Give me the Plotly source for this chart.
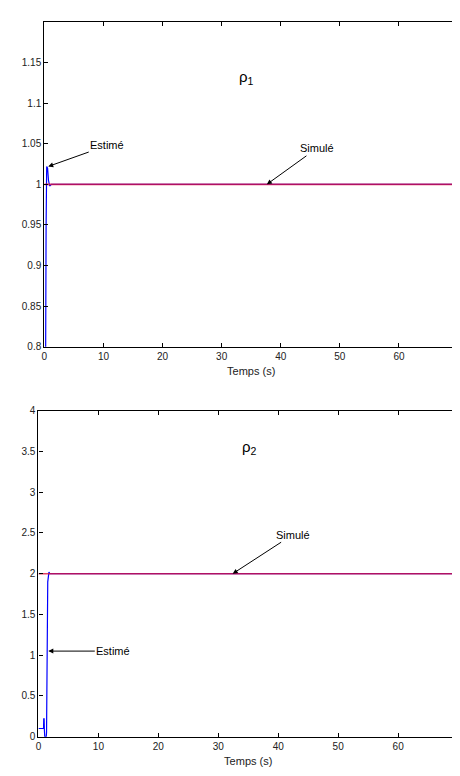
import plotly.graph_objects as go

# ---- data ----
t_sim = [0, 70]
rho1_sim = [1.0, 1.0]
rho2_sim = [2.0, 2.0]

t_est1 = [0, 0.1, 0.2, 0.3, 0.4, 0.55, 0.7, 0.9, 1.2, 70]
rho1_est = [0.5, 0.6, 0.75, 0.95, 1.022, 1.02, 1.005, 0.998, 1.0, 1.0]

t_est2 = [0, 0.85, 0.88, 0.95, 0.98, 1.05, 1.3, 1.35, 1.55, 1.65, 1.75, 1.9, 70]
rho2_est = [0.1, 0.1, 0.22, 0.22, 0.1, 0.0, 0.0, 0.05, 1.9, 1.95, 2.02, 2.0, 2.0]

x_ticks = [0, 10, 20, 30, 40, 50, 60, 70]
y1_ticks = [0.8, 0.85, 0.9, 0.95, 1.0, 1.05, 1.1, 1.15]
y1_labels = ["0.8", "0.85", "0.9", "0.95", "1", "1.05", "1.1", "1.15"]
y2_ticks = [0, 0.5, 1, 1.5, 2, 2.5, 3, 3.5, 4]
y2_labels = ["0", "0.5", "1", "1.5", "2", "2.5", "3", "3.5", "4"]

FONT = "Liberation Sans, Arial, sans-serif"
W, H = 460, 776

fig = go.Figure()

fig.add_trace(go.Scatter(x=t_est1, y=rho1_est, mode="lines",
                         line=dict(color="#0000ff", width=1.2), xaxis="x", yaxis="y", showlegend=False))
fig.add_trace(go.Scatter(x=t_sim, y=rho1_sim, mode="lines",
                         line=dict(color="rgba(220,20,60,0.8)", width=1.6), xaxis="x", yaxis="y", showlegend=False))
fig.add_trace(go.Scatter(x=t_est2, y=rho2_est, mode="lines",
                         line=dict(color="#0000ff", width=1.2), xaxis="x2", yaxis="y2", showlegend=False))
fig.add_trace(go.Scatter(x=t_sim, y=rho2_sim, mode="lines",
                         line=dict(color="rgba(220,20,60,0.8)", width=1.6), xaxis="x2", yaxis="y2", showlegend=False))

axis_common = dict(showline=True, linecolor="black", linewidth=1.2, mirror="ticks",
                   ticks="inside", ticklen=4, tickcolor="black", showgrid=False, zeroline=False,
                   ticklabeloverflow="allow",
                   tickfont=dict(family=FONT, size=10, color="#222"))

fig.update_layout(
    width=W, height=H, margin=dict(l=0, r=0, t=0, b=0),
    paper_bgcolor="white", plot_bgcolor="white",
    xaxis=dict(domain=[34 / W, 456 / W], anchor="y", range=[0, 70], tickvals=x_ticks,
               title=dict(text="Temps (s)", font=dict(family=FONT, size=11, color="#222"), standoff=6),
               **axis_common),
    yaxis=dict(domain=[1 - 338 / H, 1 - 8 / H], anchor="x", range=[0.8, 1.2],
               tickvals=y1_ticks, ticktext=y1_labels, **axis_common),
    xaxis2=dict(domain=[28 / W, 456 / W], anchor="y2", range=[0, 70], tickvals=x_ticks,
                title=dict(text="Temps (s)", font=dict(family=FONT, size=11, color="#222"), standoff=6),
                **axis_common),
    yaxis2=dict(domain=[1 - 734 / H, 1 - 403 / H], anchor="x2", range=[0, 4],
                tickvals=y2_ticks, ticktext=y2_labels, **axis_common),
)

afont = dict(family=FONT, size=11, color="black")
ann = [
    dict(x=34.2, y=1.131, xref="x", yref="y", text="ρ<sub>1</sub>", showarrow=False,
         font=dict(family=FONT, size=15, color="black")),
    dict(x=35.2, y=3.55, xref="x2", yref="y2", text="ρ<sub>2</sub>", showarrow=False,
         font=dict(family=FONT, size=15, color="black")),
    dict(x=0.66, y=1.022, xref="x", yref="y", text="Estimé", showarrow=True, arrowhead=2,
         arrowsize=1, arrowwidth=1, arrowcolor="black", ax=59, ay=-21, font=afont),
    dict(x=37.65, y=1.0, xref="x", yref="y", text="Simulé", showarrow=True, arrowhead=2,
         arrowsize=1, arrowwidth=1, arrowcolor="black", ax=50, ay=-36, font=afont),
    dict(x=32.4, y=2.0, xref="x2", yref="y2", text="Simulé", showarrow=True, arrowhead=2,
         arrowsize=1, arrowwidth=1, arrowcolor="black", ax=60, ay=-39, font=afont),
    dict(x=1.64, y=1.05, xref="x2", yref="y2", text="Estimé", showarrow=True, arrowhead=2,
         arrowsize=1, arrowwidth=1, arrowcolor="black", ax=65, ay=0, font=afont),
]
fig.update_layout(annotations=ann)

fig.write_html("out.html")
